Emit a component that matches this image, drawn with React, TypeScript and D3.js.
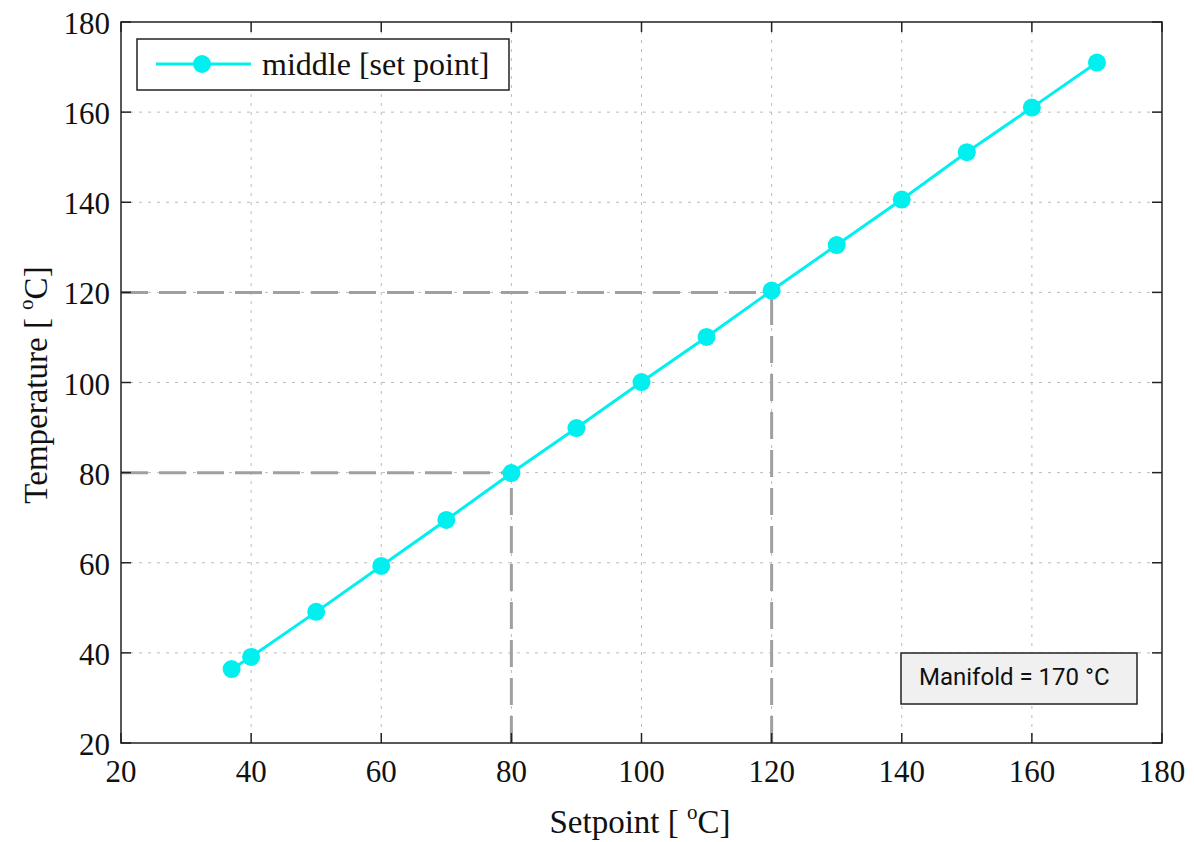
import React from "react"
import * as d3 from "d3"

const setpoints = [37, 40, 50, 60, 70, 80, 90, 100, 110, 120, 130, 140, 150, 160, 170]
const temperatures = [36.4, 39.1, 49.1, 59.3, 69.5, 79.9, 89.9, 100.1, 110.1, 120.4, 130.5, 140.6, 151.1, 161, 171]
const xTicks = [20, 40, 60, 80, 100, 120, 140, 160, 180]
const yTicks = [20, 40, 60, 80, 100, 120, 140, 160, 180]
const guides = [80, 120]

const W = 1194
const H = 842
const left = 121
const right = 1162
const top = 22
const bottom = 743
const serif = "'Liberation Serif', 'Times New Roman', serif"

export default function App() {
  const x = d3.scaleLinear().domain([20, 180]).range([left, right])
  const y = d3.scaleLinear().domain([20, 180]).range([bottom, top])
  const pts = setpoints.map((s, i) => [s, temperatures[i]] as [number, number])
  const line = d3.line<[number, number]>().x(d => x(d[0])).y(d => y(d[1]))

  return (
    <svg width={W} height={H} style={{ position: "absolute", left: 0, top: 0 }}>
      <rect x={0} y={0} width={W} height={H} fill="#fff" />
      {/* grid */}
      {xTicks.slice(1, -1).map(t => (
        <line key={"gx" + t} x1={x(t)} x2={x(t)} y1={top} y2={bottom}
          stroke="#bbb" strokeWidth={1} strokeDasharray="3,6" />
      ))}
      {yTicks.slice(1, -1).map(t => (
        <line key={"gy" + t} x1={left} x2={right} y1={y(t)} y2={y(t)}
          stroke="#bbb" strokeWidth={1} strokeDasharray="3,6" />
      ))}
      {/* guide lines */}
      {guides.map(g => (
        <g key={"g" + g}>
          <line x1={left} x2={x(g)} y1={y(g)} y2={y(g)} stroke="#a0a0a0" strokeWidth={3} strokeDasharray="27,11" />
          <line x1={x(g)} x2={x(g)} y1={bottom} y2={y(g)} stroke="#a0a0a0" strokeWidth={3} strokeDasharray="27,11" />
        </g>
      ))}
      {/* ticks */}
      {xTicks.map(t => (
        <g key={"tx" + t}>
          <line x1={x(t)} x2={x(t)} y1={bottom} y2={bottom - 10} stroke="#222" strokeWidth={1.5} />
          <line x1={x(t)} x2={x(t)} y1={top} y2={top + 10} stroke="#222" strokeWidth={1.5} />
          <text x={x(t)} y={782} textAnchor="middle" fontFamily={serif} fontSize={31} fill="#111">{t}</text>
        </g>
      ))}
      {yTicks.map(t => (
        <g key={"ty" + t}>
          <line x1={left} x2={left + 10} y1={y(t)} y2={y(t)} stroke="#222" strokeWidth={1.5} />
          <line x1={right} x2={right - 10} y1={y(t)} y2={y(t)} stroke="#222" strokeWidth={1.5} />
          <text x={left - 11} y={y(t) + 12} textAnchor="end" fontFamily={serif} fontSize={31} fill="#111">{t}</text>
        </g>
      ))}
      <rect x={left} y={top} width={right - left} height={bottom - top} fill="none" stroke="#222" strokeWidth={1.5} />
      {/* series */}
      <path d={line(pts) || ""} fill="none" stroke="#00f0f0" strokeWidth={3} />
      {pts.map((p, i) => (
        <circle key={"p" + i} cx={x(p[0])} cy={y(p[1])} r={9} fill="#00f0f0" />
      ))}
      {/* legend */}
      <rect x={137} y={39} width={372} height={51} fill="#fff" stroke="#222" strokeWidth={1.5} />
      <line x1={156} x2={251} y1={64} y2={64} stroke="#00f0f0" strokeWidth={3} />
      <circle cx={202} cy={64} r={9} fill="#00f0f0" />
      <text x={262} y={75} fontFamily={serif} fontSize={32} fill="#111">middle [set point]</text>
      {/* annotation */}
      <rect x={901} y={653} width={236} height={51} fill="#f0f0f0" stroke="#222" strokeWidth={1.5} />
      <text x={919} y={685} fontFamily="Roboto, sans-serif" fontSize={24} fill="#111">Manifold = 170 °C</text>
      {/* axis labels */}
      <text x={640} y={833} textAnchor="middle" fontFamily={serif} fontSize={33} fill="#111">
        Setpoint [ <tspan dy={-14} fontSize={21}>o</tspan><tspan dy={14}>C]</tspan>
      </text>
      <text transform={`translate(47,385) rotate(-90)`} textAnchor="middle" fontFamily={serif} fontSize={33} fill="#111">
        Temperature [ <tspan dy={-14} fontSize={21}>o</tspan><tspan dy={14}>C]</tspan>
      </text>
    </svg>
  )
}
